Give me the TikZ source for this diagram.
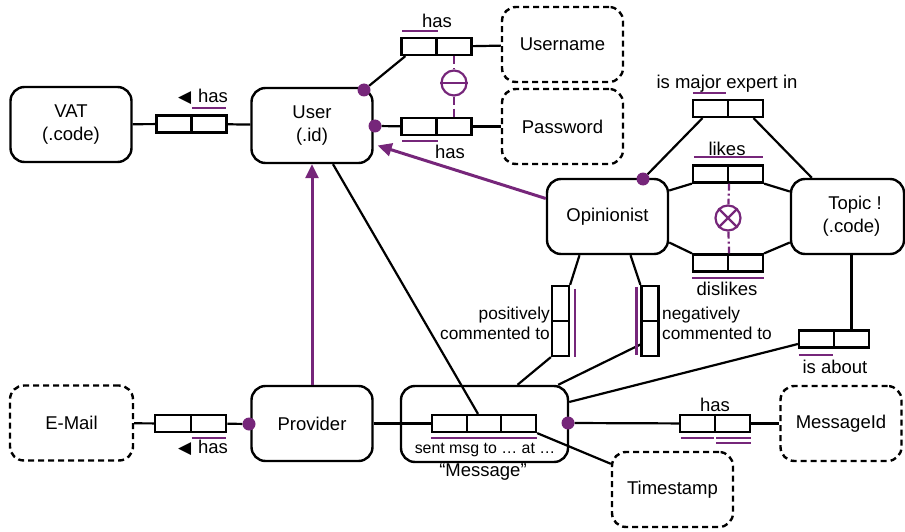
\documentclass[tikz,border=0pt]{standalone}
\usepackage{fontspec}
\setmainfont{Liberation Sans}
\newfontfamily\dejavu{DejaVu Sans}
\usetikzlibrary{calc,arrows.meta}
\definecolor{orm}{RGB}{118,38,122}
\begin{document}
\begin{tikzpicture}[x=1pt,y=-1pt,
  every node/.style={font=\fontsize{18.5}{23}\selectfont},
  ent/.style={draw, line width=2.4pt, rounded corners=14pt, minimum width=121pt, minimum height=75pt, align=center, inner sep=0pt},
  val/.style={ent, dash pattern=on 6pt off 4pt},
  cell/.style={draw, line width=2.2pt, minimum width=35pt, minimum height=17pt, inner sep=0pt},
  vcell/.style={cell, minimum width=17pt, minimum height=35pt},
  conn/.style={line width=2.2pt},
  cons/.style={orm, line width=2.2pt},
  dot/.style={circle, fill=orm, minimum size=13pt, inner sep=0pt},
  ring/.style={circle, draw=orm, line width=2.2pt, minimum size=25pt, inner sep=0pt},
  sub/.style={orm, line width=3pt, -{Triangle[length=14pt,width=13pt]}},
  lbl/.style={inner sep=0pt},
  small/.style={inner sep=0pt, font=\fontsize{17.3}{20}\selectfont},
  tiny/.style={inner sep=0pt, font=\fontsize{15.9}{18}\selectfont},
]
\useasboundingbox (0,0) rectangle (905,532);

% ---------- entity and value types ----------
\node[ent] (vat)  at (71,124.5)   {VAT\\(.code)};
\node[ent] (user) at (312,125.5)  {User\\(.id)};
\node[val] (uname) at (562.5,44.5) {Username};
\node[val] (pwd)   at (562.5,126.5) {Password};
\node[ent] (op)   at (607.5,216.5) {Opinionist};
\node[ent, minimum width=113pt] (topic) at (847.5,216.5) {\hspace*{15pt}Topic !\\\hspace*{8pt}(.code)};
\node[val, minimum width=123pt] (email) at (71.5,423) {E-Mail};
\node[ent] (prov) at (312,423.5) {Provider};
\node[ent, minimum width=167pt, minimum height=76pt] (msg) at (484.5,424) {};
\node[val] (ts)  at (672.5,489.5) {Timestamp};
\node[val] (mid) at (841,423.5) {MessageId};

% ---------- fact type role boxes ----------
\node[cell] (vh1) at (174,124) {};
\node[cell] (vh2) at (209,124) {};
\node[cell] (uh1) at (419,46.5) {};
\node[cell] (uh2) at (454,46.5) {};
\node[cell] (ph1) at (419,126.5) {};
\node[cell] (ph2) at (454,126.5) {};
\node[cell] (ex1) at (710.5,108.5) {};
\node[cell] (ex2) at (745.5,108.5) {};
\node[cell] (li1) at (710.5,174) {};
\node[cell] (li2) at (745.5,174) {};
\node[cell] (di1) at (710.5,263) {};
\node[cell] (di2) at (745.5,263) {};
\node[vcell] (pc1) at (560.5,303.5) {};
\node[vcell] (pc2) at (560.5,338.5) {};
\node[vcell] (nc1) at (650,303.5) {};
\node[vcell] (nc2) at (650,338.5) {};
\node[cell] (ab1) at (816.5,339) {};
\node[cell] (ab2) at (851.5,339) {};
\node[cell, minimum width=34.7pt] (m1) at (449.3,423.5) {};
\node[cell, minimum width=34.7pt] (m2) at (484,423.5) {};
\node[cell, minimum width=34.7pt] (m3) at (518.7,423.5) {};
\node[cell] (mh1) at (697.5,423.5) {};
\node[cell] (mh2) at (732.5,423.5) {};
\node[cell, minimum width=35.5pt] (em1) at (173,423.5) {};
\node[cell, minimum width=35.5pt] (em2) at (208.5,423.5) {};

% ---------- mandatory role dots ----------
\node[dot] (dU1) at (364,90) {};
\node[dot] (dU2) at (375,126) {};
\node[dot] (dO)  at (643,179) {};
\node[dot] (dM)  at (568,423) {};
\node[dot] (dP)  at (249,424) {};

% ---------- connectors ----------
\draw[conn] (vat) -- (vh1);
\draw[conn] (vh2) -- (user);
\draw[conn] (dU1) -- ($(uh1.south west)+(5,0)$);
\draw[conn] (uh2) -- (uname);
\draw[conn] (dU2) -- (ph1);
\draw[conn] (ph2) -- (pwd);
\draw[conn] (dO) -- ($(ex1.south)+(-8,0)$);
\draw[conn] ($(ex2.south)+(8,0)$) -- ($(topic.north west)+(22,0)$);
\draw[conn] ($(op.east)+(0,-26)$) -- (li1.south west);
\draw[conn] (li2.south east) -- ($(topic.west)+(0,-25)$);
\draw[conn] ($(op.east)+(0,26)$) -- (di1.north west);
\draw[conn] (di2.north east) -- ($(topic.west)+(0,26)$);
\draw[conn] ($(op.south)+(-28,0)$) -- (pc1.north east);
\draw[conn] ($(op.south)+(23,0)$) -- (nc1.north west);
\draw[conn] (pc2.south west) -- ($(msg.north)+(33,0)$);
\draw[conn] ($(nc2.west)+(0,6)$) -- ($(msg.north east)+(-11,0)$);
\draw[conn] ($(topic.south)+(4,0)$) -- ($(ab2.north)+(0,0)$);
\draw[conn] ($(ab1.west)+(0,5)$) -- ($(msg.east)+(0,-22)$);
\draw[conn] ($(user.south)+(21,0)$) -- ($(m2.north)+(-6,0)$);
\draw[conn] (prov) -- (m1);
\draw[conn] (m3.south east) -- ($(ts.north west)+(0,13)$);
\draw[conn] (dM) -- (mh1);
\draw[conn] (mh2) -- (mid);
\draw[conn] (email) -- (em1);
\draw[conn] (em2) -- (dP);

% ---------- subtype links ----------
\draw[sub] (prov) -- (user);
\draw[sub] ($(op.west)+(0,-18)$) -- ($(user.east)+(4,20)$);

% ---------- uniqueness constraints ----------
\draw[cons] ($(vh2.north west)+(2,-6)$) -- ($(vh2.north east)+(-2,-6)$);
\draw[cons] ($(uh1.north west)+(2,-6)$) -- ($(uh1.north east)+(0,-6)$);
\draw[cons] ($(ph1.south west)+(2,5)$) -- ($(ph1.south east)+(0,5)$);
\draw[cons] ($(ex1.north west)+(1,-6)$) -- ($(ex1.north east)+(-3,-6)$);
\draw[cons] ($(li1.north west)+(2,-7)$) -- ($(li2.north east)+(-1,-7)$);
\draw[cons] ($(di1.south west)+(0,5)$) -- ($(di2.south east)+(0,5)$);
\draw[cons] ($(pc1.north east)+(5,4)$) -- ($(pc2.south east)+(5,0)$);
\draw[cons] ($(nc1.north west)+(-4,2)$) -- ($(nc2.south west)+(-4,-2)$);
\draw[cons] ($(ab1.south west)+(1,6)$) -- ($(ab1.south east)+(-2,6)$);
\draw[cons] ($(m1.south west)+(0,5)$) -- ($(m3.south east)+(0,5)$);
\draw[cons] ($(mh1.south west)+(2,4.5)$) -- ($(mh1.south east)+(-2,4.5)$);
\draw[cons] ($(mh2.south west)+(2,4.5)$) -- ($(mh2.south east)+(0,4.5)$);
\draw[cons] ($(mh2.south west)+(2,9.5)$) -- ($(mh2.south east)+(0,9.5)$);
\draw[cons] ($(em2.south west)+(2,5)$) -- ($(em2.south east)+(-1,5)$);

% ---------- equality and exclusion constraints ----------
\node[ring] (eq) at (454,83) {};
\draw[cons] (eq.west) -- (eq.east);
\draw[cons, dash pattern=on 8pt off 4pt] (uh2) -- (eq);
\draw[cons, dash pattern=on 8pt off 4pt] (eq) -- (ph2);
\node[ring] (xc) at (728,218) {};
\draw[cons] (xc.north east) -- (xc.south west);
\draw[cons] (xc.north west) -- (xc.south east);
\draw[cons, dash pattern=on 7pt off 3pt on 2pt off 3pt] (li1.south east) -- (xc);
\draw[cons, dash pattern=on 7pt off 3pt on 2pt off 3pt] (xc) -- (di1.north east);

% ---------- reading labels ----------
\node[lbl] (lvat) at (203,97) {{\dejavu\fontsize{17}{17}\selectfont ◀}\kern7pt has};
\node[lbl] (luname) at (437,21) {has};
\node[lbl] (lpwd) at (450,152) {has};
\node[lbl] (lex) at (727,84) {is major expert in};
\node[lbl] (lli) at (727,149) {likes};
\node[lbl] (ldi) at (727,289) {dislikes};
\node[small, anchor=east, align=right] (lpc) at (550,323) {positively\\commented to};
\node[small, anchor=west, align=left] (lnc) at (662,323) {negatively\\commented to};
\node[lbl] (lab) at (835,367) {is about};
\node[lbl] (lmid) at (715,405) {has};
\node[lbl] (lem) at (203,448) {{\dejavu\fontsize{17}{17}\selectfont ◀}\kern7pt has};
\node[tiny] (lsent) at (485,450) {sent msg to … at …};
\node[lbl] (lmsg) at (483,472) {“Message”};
\end{tikzpicture}
\end{document}
